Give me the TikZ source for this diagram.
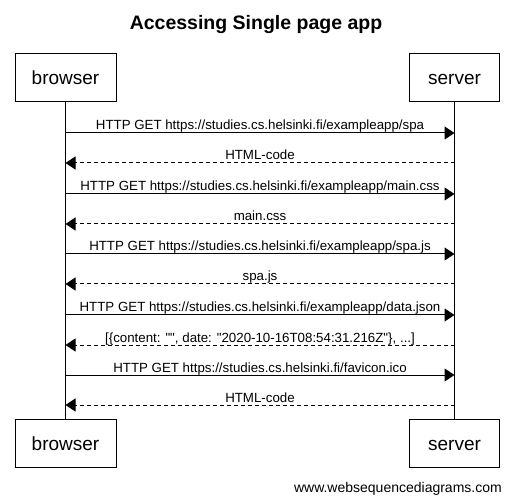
\documentclass[tikz,border=0pt]{standalone}
\usepackage{fontspec}
\setmainfont{Liberation Sans}[Ligatures=TeXOff]
\usetikzlibrary{arrows.meta}

\begin{document}
\begin{tikzpicture}[
    x=1pt,y=-1pt,
    every node/.style={font=\fontsize{13.3}{15}\selectfont},
    actor/.style={draw=black, line width=1pt, minimum height=48pt, text height=14pt, text depth=0pt,
                  inner sep=0pt, font=\fontsize{19}{22}\selectfont},
    life/.style={draw=black, line width=1pt},
    req/.style={draw=black, line width=1pt, -{Triangle[length=10pt,width=13pt]}},
    reply/.style={req, dash pattern=on 4pt off 3pt},
    msg/.style={anchor=base, yshift=3pt, inner sep=0pt}
]
    \useasboundingbox (0,0) rectangle (511,502);
    \node[font=\fontsize{19.5}{22}\selectfont\bfseries, anchor=base] (title) at (256,30) {Accessing Single page app};

    \node[actor, minimum width=101pt] (btop) at (65.5,77.5) {browser};
    \node[actor, minimum width=90pt] (stop) at (454.5,77.5) {server};
    \node[actor, minimum width=101pt] (bbot) at (65.5,443.5) {browser};
    \node[actor, minimum width=90pt] (sbot) at (454.5,443.5) {server};

    \draw[life] (btop) -- (bbot);
    \draw[life] (stop) -- (sbot);

    % requests
    \foreach \n/\y/\txt in {1/133/{HTTP GET https://studies.cs.helsinki.fi/exampleapp/spa},
                            3/194/{HTTP GET https://studies.cs.helsinki.fi/exampleapp/main.css},
                            5/254/{HTTP GET https://studies.cs.helsinki.fi/exampleapp/spa.js},
                            7/315/{HTTP GET https://studies.cs.helsinki.fi/exampleapp/data.json},
                            9/375/{HTTP GET https://studies.cs.helsinki.fi/favicon.ico}} {
        \coordinate (b\n) at (65.5,\y);
        \coordinate (s\n) at (454.5,\y);
        \draw[req] (b\n) -- node[msg] {\txt} (s\n);
    }

    % replies
    \foreach \n/\y/\txt in {2/163/{HTML-code},
                            4/224/{main.css},
                            6/284/{spa.js},
                            8/345/{[\{content: "", date: "2020-10-16T08:54:31.216Z"\}, ...]},
                            10/405/{HTML-code}} {
        \coordinate (b\n) at (65.5,\y);
        \coordinate (s\n) at (454.5,\y);
        \draw[reply] (s\n) -- node[msg] {\txt} (b\n);
    }

    \node[font=\fontsize{14}{16}\selectfont, anchor=base east, inner sep=0pt] (credit) at (502,492) {www.websequencediagrams.com};
\end{tikzpicture}
\end{document}
